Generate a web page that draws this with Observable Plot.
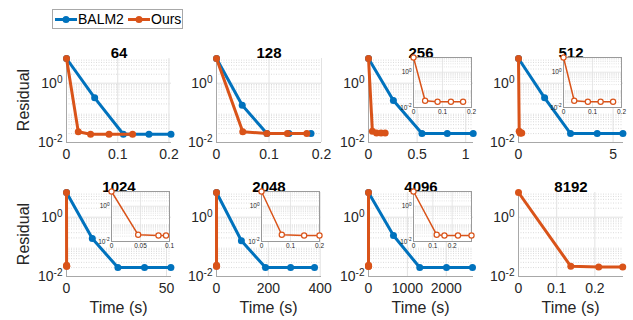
<!DOCTYPE html>
<html><head><meta charset="utf-8">
<script src="https://cdn.jsdelivr.net/npm/d3@7"></script>
<script src="https://cdn.jsdelivr.net/npm/@observablehq/plot@0.6"></script>
<style>
body{margin:0;background:#fff;}
#fig{position:relative;width:633px;height:320px;overflow:hidden;font-family:Arial,"Liberation Sans",Helvetica,sans-serif;background:#fff;}
.lbl{position:absolute;color:#262626;white-space:nowrap;}
</style></head><body><div id="fig"></div>
<script>
// ---- data ----
const sizes = ["64","128","256","512","1024","2048","4096","8192"];
const seriesNames = ["BALM2","Ours"];
const balmTime = [[0,0.055,0.111,0.161,0.204],[0,0.049,0.096,0.138,0.18],[0,0.256,0.55,0.81,1.077],[0,1.38,2.75,4.16,5.52],[0,12.9,25.7,39,52.2],[0,96,189,286,378],[0,642,1318,2005,2674],[]];
const balmRes  = [[6.8,0.32,0.019,0.019,0.019],[6.8,0.18,0.02,0.02,0.02],[6.8,0.26,0.02,0.02,0.02],[6.8,0.32,0.02,0.02,0.02],[6.8,0.19,0.02,0.02,0.02],[6.8,0.16,0.02,0.02,0.02],[6.8,0.24,0.02,0.02,0.02],[]];
const oursTime = [[0,0.023,0.047,0.083,0.129],[0,0.05,0.096,0.135,0.172],[0,0.04,0.083,0.129,0.171],[0,0.037,0.084,0.128,0.171],[0,0.046,0.081,0.094],[0,0.07,0.147,0.2],[0,0.12,0.16,0.23,0.30],[0,0.137,0.21,0.273]];
const oursRes  = [[6.8,0.023,0.019,0.019,0.019],[6.8,0.023,0.02,0.02,0.02],[6.8,0.024,0.021,0.021,0.021],[6.8,0.024,0.021,0.021,0.021],[6.8,0.024,0.022,0.022],[6.8,0.024,0.022,0.022],[6.8,0.024,0.022,0.022,0.022],[6.8,0.022,0.021,0.021]];
const xMax = [0.205,0.2,1.08,5.55,52.5,405,2700,0.275];
const xTickVals = [[0,0.1,0.2],[0,0.1,0.2],[0,0.5,1],[0,5],[0,50],[0,200,400],[0,1000,2000],[0,0.1,0.2]];
const insetXMax = [null,null,0.2,0.2,0.1,0.2,0.3,null];
const insetXTicks = [null,null,[0,0.1,0.2],[0,0.1,0.2],[0,0.05,0.1],[0,0.1,0.2],[0,0.1,0.2],null];
const yTickVals = [0.01, 1];
const yDomain = [0.01, 6.8];
const xLabel = "Time (s)", yLabel = "Residual";

// ---- style ----
const BLUE = "#0072BD", ORANGE = "#D95319";
const FONT = 'Arial, "Liberation Sans", Helvetica, sans-serif';
const colL = [66,216,368,518], rowT = [58,192];
const W = 105, H = 84;
const fig = document.getElementById("fig");

const minorY = [];
for (let k = -2; k <= 0; k++) for (let m = 2; m <= 9; m++) { const v = m * Math.pow(10,k); if (v < yDomain[1]) minorY.push(v); }
const fmtX = d => String(d);
const fmtY = d => "10^" + Math.round(Math.log10(d));

function supers(svg){
  svg.querySelectorAll("text, tspan").forEach(t => {
    if (t.children.length) return;
    const m = /^10\^(-?\d+)$/.exec(t.textContent);
    if (m) {
      t.textContent = "10";
      const s = document.createElementNS("http://www.w3.org/2000/svg","tspan");
      s.setAttribute("dy","-0.45em"); s.setAttribute("font-size","0.72em");
      s.textContent = m[1];
      t.appendChild(s);
    }
  });
}
function place(svg, left, top){
  svg.style.position = "absolute"; svg.style.left = left + "px"; svg.style.top = top + "px";
  supers(svg); fig.appendChild(svg);
}
function toRows(ts, rs){ return ts.map((t,j)=>({t, r: rs[j]})); }

function panel(i){
  const L = colL[i%4], T = rowT[Math.floor(i/4)];
  const mL = 50, mR = 6, mT = 26, mB = 30;
  const balm = toRows(balmTime[i], balmRes[i]);
  const ours = toRows(oursTime[i], oursRes[i]);
  const svg = Plot.plot({
    width: W+mL+mR, height: H+mT+mB, marginLeft: mL, marginRight: mR, marginTop: mT, marginBottom: mB,
    x: {domain: [0, xMax[i]]},
    y: {type: "log", domain: yDomain},
    style: {fontFamily: FONT, fontSize: "14px", color: "#262626", background: "transparent", overflow: "visible"},
    marks: [
      Plot.ruleY(minorY, {stroke: "#d2d2d2", strokeWidth: 0.8, strokeDasharray: "1,1.5"}),
      Plot.ruleX(xTickVals[i], {stroke: "#e2e2e2", strokeWidth: 1}),
      Plot.ruleY(yTickVals, {stroke: "#e2e2e2", strokeWidth: 1}),
      Plot.ruleX([0], {stroke: "#a8a8a8", strokeWidth: 1}),
      Plot.ruleY([yDomain[0]], {stroke: "#a8a8a8", strokeWidth: 1}),
      Plot.axisX({ticks: xTickVals[i], tickSize: 0, tickPadding: 7, tickFormat: fmtX, fontSize: 14, fontFamily: FONT, label: null}),
      Plot.axisY({ticks: yTickVals, tickSize: 0, tickPadding: 4, tickFormat: fmtY, fontSize: 14, fontFamily: FONT, label: null}),
      Plot.line(balm, {x: "t", y: "r", stroke: BLUE, strokeWidth: 3}),
      Plot.dot(balm, {x: "t", y: "r", r: 3.5, fill: BLUE}),
      Plot.line(ours, {x: "t", y: "r", stroke: ORANGE, strokeWidth: 3}),
      Plot.dot(ours, {x: "t", y: "r", r: 3.5, fill: ORANGE}),
      Plot.text([sizes[i]], {frameAnchor: "top", dy: -11, fontWeight: "bold", fontSize: 15, fontFamily: FONT, fill: "#000"})
    ]
  });
  place(svg, L - mL, T - mT);
}

function inset(i){
  if (insetXMax[i] == null) return;
  const L = colL[i%4] + 45, T = rowT[Math.floor(i/4)] - 1;
  const IW = 58, IH = 50;
  const mL = 22, mR = 6, mT = 4, mB = 14;
  const ours = toRows(oursTime[i], oursRes[i]);
  const svg = Plot.plot({
    width: IW+mL+mR, height: IH+mT+mB, marginLeft: mL, marginRight: mR, marginTop: mT, marginBottom: mB,
    x: {domain: [0, insetXMax[i]]},
    y: {type: "log", domain: yDomain},
    style: {fontFamily: FONT, fontSize: "6.5px", color: "#262626", background: "transparent", overflow: "visible"},
    marks: [
      Plot.frame({fill: "#fff", stroke: null}),
      Plot.ruleY(minorY, {stroke: "#d2d2d2", strokeWidth: 0.6, strokeDasharray: "1,1.2"}),
      Plot.ruleX(insetXTicks[i], {stroke: "#e2e2e2", strokeWidth: 0.8}),
      Plot.ruleY(yTickVals, {stroke: "#e2e2e2", strokeWidth: 0.8}),
      Plot.frame({stroke: "#9a9a9a", strokeWidth: 1}),
      Plot.axisX({ticks: insetXTicks[i], tickSize: 0, tickPadding: 2, tickFormat: fmtX, fontSize: 6.5, fontFamily: FONT, label: null}),
      Plot.axisY({ticks: yTickVals, tickSize: 0, tickPadding: 2, tickFormat: fmtY, fontSize: 6.5, fontFamily: FONT, label: null}),
      Plot.line(ours, {x: "t", y: "r", stroke: ORANGE, strokeWidth: 1.5}),
      Plot.dot(ours, {x: "t", y: "r", r: 2.6, fill: "#fff", stroke: ORANGE, strokeWidth: 1.2})
    ]
  });
  place(svg, L - mL, T - mT);
}

for (let i = 0; i < 8; i++) panel(i);
for (let i = 0; i < 8; i++) inset(i);

// axis labels
for (let r = 0; r < 2; r++) {
  const d = document.createElement("div");
  d.className = "lbl"; d.textContent = yLabel;
  d.style.fontSize = "16px";
  d.style.left = "24px"; d.style.top = (rowT[r] + H/2) + "px";
  d.style.transform = "translate(-50%,-50%) rotate(-90deg)";
  fig.appendChild(d);
}
for (let c = 0; c < 4; c++) {
  const d = document.createElement("div");
  d.className = "lbl"; d.textContent = xLabel;
  d.style.fontSize = "16px";
  d.style.left = (colL[c] + W/2) + "px"; d.style.top = "308px";
  d.style.transform = "translate(-50%,-50%)";
  fig.appendChild(d);
}

// legend
const leg = document.createElement("div");
leg.style.cssText = "position:absolute;left:52px;top:9px;width:129px;height:18px;border:1px solid #a8a8a8;background:#fff;";
const colors = [BLUE, ORANGE];
const keyX = [1, 74];
seriesNames.forEach((name, k) => {
  const s = document.createElementNS("http://www.w3.org/2000/svg","svg");
  s.setAttribute("width","24"); s.setAttribute("height","18");
  s.style.cssText = "position:absolute;top:0;left:" + keyX[k] + "px";
  s.innerHTML = '<line x1="1" x2="23" y1="9.5" y2="9.5" stroke="'+colors[k]+'" stroke-width="3"/><circle cx="12" cy="9.5" r="3.5" fill="'+colors[k]+'"/>';
  leg.appendChild(s);
  const t = document.createElement("div");
  t.textContent = name;
  t.style.cssText = "position:absolute;top:0;line-height:18px;font-size:14px;color:#000;left:" + (keyX[k] + 24) + "px";
  leg.appendChild(t);
});
fig.appendChild(leg);
</script>
</body></html>
